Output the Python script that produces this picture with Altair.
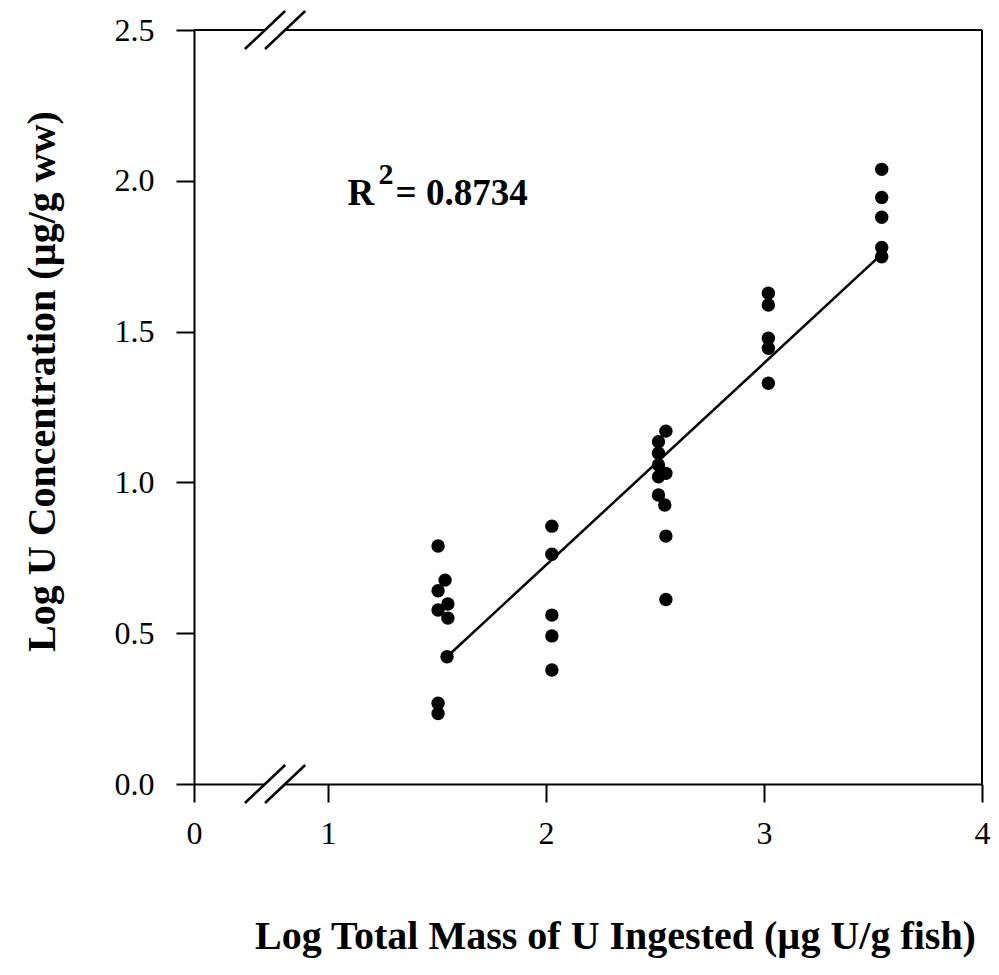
import altair as alt
import pandas as pd

# ---- data ----
pt_x = [1.505, 1.505, 1.537, 1.505, 1.55, 1.55, 1.546, 1.505, 1.505,
        2.027, 2.027, 2.027, 2.027, 2.027,
        2.55, 2.516, 2.516, 2.516, 2.516, 2.55, 2.516, 2.545, 2.55, 2.55,
        3.02, 3.02, 3.02, 3.02, 3.02,
        3.54, 3.54, 3.54, 3.54, 3.54]
pt_y = [0.789, 0.641, 0.676, 0.577, 0.597, 0.550, 0.422, 0.268, 0.234,
        0.855, 0.762, 0.560, 0.491, 0.378,
        1.170, 1.135, 1.097, 1.058, 1.019, 1.030, 0.958, 0.925, 0.822, 0.612,
        1.627, 1.588, 1.478, 1.445, 1.329,
        2.038, 1.945, 1.879, 1.779, 1.748]

fit_x = [1.546, 3.53]
fit_y = [0.422, 1.75]

x_ticks = [0, 1, 2, 3, 4]
y_ticks = [0.0, 0.5, 1.0, 1.5, 2.0, 2.5]

# frame (top / right), axis break marks
frame_x = [0, 4]
frame_y = [2.5, 0]
frame_x2 = [4, 4]
frame_y2 = [2.5, 2.5]

brk_x = [0.38, 0.53, 0.38, 0.53]
brk_y = [-0.063, -0.063, 2.437, 2.437]
brk_x2 = [0.68, 0.83, 0.68, 0.83]
brk_y2 = [0.063, 0.063, 2.563, 2.563]

gap_x = [0.53, 0.53]
gap_y = [0.0, 2.5]
gap_x2 = [0.68, 0.68]
gap_y2 = [0.0, 2.5]

ann_x = [1.09, 1.232, 1.31]
ann_y = [1.92, 1.99, 1.92]
ann_text = ["R", "2", "= 0.8734"]

W, H = 788, 754
FONT = "Liberation Serif"

xscale = alt.Scale(domain=[0, 1, 4], range=[0, 134, W], nice=False, zero=False)
yscale = alt.Scale(domain=[0, 2.5], nice=False, zero=False)

xaxis = alt.Axis(values=x_ticks, format="d", grid=False, labelFlush=False,
                 domainColor="black", domainWidth=2,
                 tickColor="black", tickWidth=2, tickSize=18,
                 labelFont=FONT, labelFontSize=32, labelColor="black", labelPadding=16,
                 title="Log Total Mass of U Ingested (\u00b5g U/g fish)",
                 titleFont=FONT, titleFontSize=40, titleFontWeight="bold", titleColor="black",
                 titleX=421, titleY=152, titleAlign="center", titleBaseline="middle")
yaxis = alt.Axis(values=y_ticks, format=".1f", grid=False, labelFlush=False,
                 domainColor="black", domainWidth=2,
                 tickColor="black", tickWidth=2, tickSize=18,
                 labelFont=FONT, labelFontSize=32, labelColor="black", labelPadding=22,
                 title="Log U Concentration (\u00b5g/g ww)",
                 titleFont=FONT, titleFontSize=40, titleFontWeight="bold", titleColor="black",
                 titleAngle=-90, titleX=-152, titleY=351, titleAlign="center", titleBaseline="middle")

X = alt.X("x:Q", scale=xscale, axis=xaxis)
Y = alt.Y("y:Q", scale=yscale, axis=yaxis)

pts = pd.DataFrame({"x": pt_x, "y": pt_y})
fit = pd.DataFrame({"x": fit_x, "y": fit_y})
frame = pd.DataFrame({"x": frame_x, "y": frame_y, "xe": frame_x2, "ye": frame_y2})
brk = pd.DataFrame({"x": brk_x, "y": brk_y, "xe": brk_x2, "ye": brk_y2})
gap = pd.DataFrame({"x": gap_x, "y": gap_y, "xe": gap_x2, "ye": gap_y2})
ann = pd.DataFrame({"x": ann_x, "y": ann_y, "t": ann_text})

frame_layer = alt.Chart(frame).mark_rule(color="black", strokeWidth=2).encode(
    x=X, y=Y, x2="xe:Q", y2="ye:Q")
gap_layer = alt.Chart(gap).mark_rule(color="white", strokeWidth=6).encode(
    x=X, y=Y, x2="xe:Q", y2="ye:Q")
brk_layer = alt.Chart(brk).mark_rule(color="black", strokeWidth=2.5).encode(
    x=X, y=Y, x2="xe:Q", y2="ye:Q")
line_layer = alt.Chart(fit).mark_line(color="black", strokeWidth=2.5).encode(x=X, y=Y)
pt_layer = alt.Chart(pts).mark_circle(color="black", opacity=1, size=180).encode(x=X, y=Y)

ann_main = alt.Chart(ann[ann.t != "2"]).mark_text(
    align="left", baseline="alphabetic", font=FONT, fontSize=37, fontWeight="bold",
    color="black").encode(x=X, y=Y, text="t:N")
ann_sup = alt.Chart(ann[ann.t == "2"]).mark_text(
    align="left", baseline="alphabetic", font=FONT, fontSize=30, fontWeight="bold",
    color="black").encode(x=X, y=Y, text="t:N")

chart = alt.layer(frame_layer, gap_layer, brk_layer, line_layer, pt_layer, ann_main, ann_sup).properties(
    width=W, height=H,
    autosize=alt.AutoSizeParams(type="none"),
    padding={"left": 186, "top": 22, "right": 9, "bottom": 180},
).configure_view(stroke=None).configure(background="white")

chart.save("out.html", embed_options={"renderer": "svg", "actions": False})
